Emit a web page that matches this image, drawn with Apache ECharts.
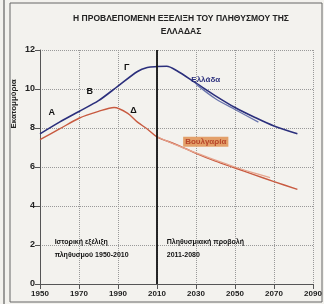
<!DOCTYPE html>
<html>
<head>
<meta charset="utf-8">
<script src="https://cdn.jsdelivr.net/npm/echarts@6/dist/echarts.min.js"></script>
<style>
html,body{margin:0;padding:0;background:#e9e8e4;}
#chart{width:324px;height:304px;}
</style>
</head>
<body>
<div id="chart"></div>
<script>
// ιστορικά + προβολή (εκατομμύρια)
var greeceYears = [1950,1960,1970,1980,1990,2000,2005,2010,2015,2020,2030,2040,2050,2060,2070,2082];
var greeceVals  = [7.7,8.3,8.85,9.4,10.15,10.9,11.1,11.15,11.17,10.95,10.3,9.65,9.05,8.55,8.1,7.7];
var greeceAltYears = [2030,2040,2050,2062];
var greeceAltVals  = [10.25,9.5,8.95,8.3];

var bulgYears = [1950,1960,1970,1980,1988,1995,2000,2005,2010,2020,2030,2040,2050,2060,2070,2082];
var bulgVals  = [7.4,7.95,8.5,8.85,9.05,8.75,8.3,7.95,7.55,7.15,6.7,6.3,5.95,5.6,5.25,4.85];
var bulgAltYears = [2010,2020,2030,2040,2050,2060,2068];
var bulgAltVals  = [7.55,7.12,6.72,6.35,6.0,5.68,5.45];

var xTicks = [1950,1970,1990,2010,2030,2050,2070,2090];
var yTicks = [0,2,4,6,8,10,12];

function pairs(xs, ys){ return xs.map(function(x,i){ return [x, ys[i]]; }); }

var F = '"Liberation Sans Narrow","Liberation Sans",Arial,sans-serif';
var chart = echarts.init(document.getElementById('chart'));
var option = {
  backgroundColor:'#f3f2ee',
  animation:false,
  title:{
    text:'Η ΠΡΟΒΛΕΠΟΜΕΝΗ ΕΞΕΛΙΞΗ ΤΟΥ ΠΛΗΘΥΣΜΟΥ ΤΗΣ\nΕΛΛΑΔΑΣ',
    left:176, top:7, textAlign:'center',
    textStyle:{fontFamily:F,fontSize:8.5,fontWeight:'bold',color:'#222',lineHeight:13}
  },
  grid:{left:40,right:11,top:50,bottom:20,containLabel:false,outerBoundsMode:'none'},
  xAxis:{
    type:'value',min:1950,max:2090,interval:20,
    axisLine:{lineStyle:{color:'#555'}},
    axisTick:{show:true,lineStyle:{color:'#555'}},
    splitLine:{show:true,lineStyle:{type:'dotted',color:'#999'}},
    axisLabel:{fontFamily:F,fontSize:8,fontWeight:'bold',color:'#222',margin:6,
      formatter:function(v){ return xTicks.indexOf(v)>=0 ? String(v) : ''; }}
  },
  yAxis:{
    type:'value',min:0,max:12,interval:2,
    axisLine:{show:true,lineStyle:{color:'#555'}},
    axisTick:{show:true,lineStyle:{color:'#555'}},
    splitLine:{show:true,lineStyle:{type:'dotted',color:'#999'}},
    axisLabel:{fontFamily:F,fontSize:9,fontWeight:'bold',color:'#222',margin:5,
      formatter:function(v){ return yTicks.indexOf(v)>=0 ? String(v) : ''; }}
  },
  series:[
    {name:'Ελλάδα',type:'line',data:pairs(greeceYears,greeceVals),smooth:0.3,symbol:'none',
      lineStyle:{color:'#2b2f7c',width:1.6},
      markLine:{silent:true,symbol:'none',label:{show:false},
        lineStyle:{color:'#111',type:'solid',width:1.8},data:[{xAxis:2010}]},
      markPoint:{symbol:'circle',symbolSize:0,
        label:{show:true,fontFamily:F,fontWeight:'bold',fontSize:9,color:'#111'},
        data:[
          {coord:[1956,8.8],value:'A',label:{formatter:'A'}},
          {coord:[1975.5,9.85],value:'B',label:{formatter:'B'}},
          {coord:[1994.5,11.1],value:'Γ',label:{formatter:'Γ'}},
          {coord:[1998,8.9],value:'Δ',label:{formatter:'Δ'}},
          {coord:[2035,10.45],value:'Ελλάδα',label:{formatter:'Ελλάδα',color:'#2b2f7c',fontSize:8}}
        ]}
    },
    {name:'Ελλάδα β',type:'line',data:pairs(greeceAltYears,greeceAltVals),smooth:0.3,symbol:'none',
      lineStyle:{color:'#6b76ad',width:1.3}},
    {name:'Βουλγαρία',type:'line',data:pairs(bulgYears,bulgVals),smooth:0.3,symbol:'none',
      lineStyle:{color:'#c85a40',width:1.4},
      markPoint:{symbol:'circle',symbolSize:0,
        label:{show:true,fontFamily:F,fontWeight:'bold',fontSize:8,color:'#b8452a',
          backgroundColor:'#e3a06a',padding:[1,2]},
        data:[{coord:[2035,7.3],value:'Βουλγαρία',label:{formatter:'Βουλγαρία'}}]}
    },
    {name:'Βουλγαρία β',type:'line',data:pairs(bulgAltYears,bulgAltVals),smooth:0.3,symbol:'none',
      lineStyle:{color:'#e6a58e',width:1.3}},
    {name:'κείμενα',type:'scatter',data:[],
      markPoint:{symbol:'circle',symbolSize:0,
        label:{show:true,fontFamily:F,fontWeight:'bold',fontSize:7,color:'#111',align:'left',lineHeight:13},
        data:[
          {coord:[1957.5,1.8],value:'a',label:{formatter:'Ιστορική εξέλιξη\nπληθυσμού 1950-2010'}},
          {coord:[2015,1.8],value:'b',label:{formatter:'Πληθυσμιακή προβολή\n2011-2080'}}
        ]}
    }
  ],
  graphic:[
    {type:'rect',shape:{x:10,y:3,width:312,height:299},style:{fill:'none',stroke:'#666',lineWidth:1}},
    {type:'line',shape:{x1:4,y1:0,x2:4,y2:304},style:{stroke:'#444',lineWidth:1}},
    {type:'text',x:14,y:104,rotation:Math.PI/2,
      style:{text:'Εκατομμύρια',font:'bold 8px '+F,fill:'#222',align:'center',verticalAlign:'middle'}}
  ]
};
chart.setOption(option);
</script>
</body>
</html>
